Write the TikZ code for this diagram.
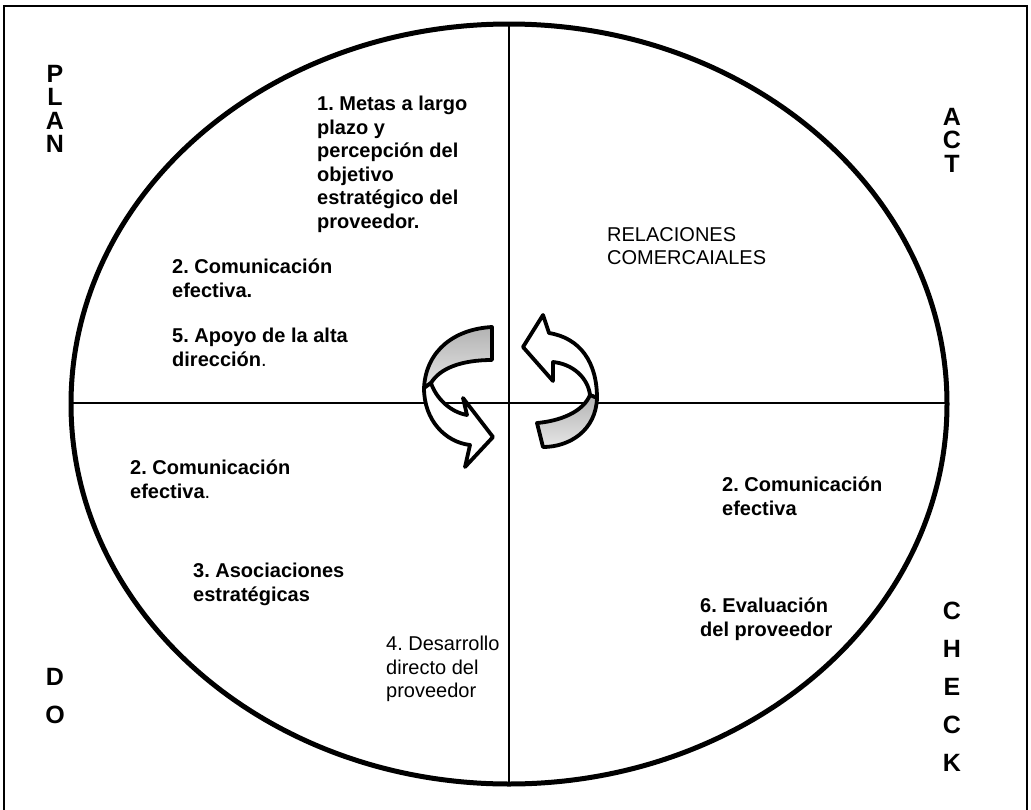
\documentclass[tikz,border=0pt]{standalone}
\usepackage{fontspec}
\setmainfont{Liberation Sans}
\frenchspacing
\begin{document}
\begin{tikzpicture}[x=1pt,y=-1pt,
  label/.style={anchor=north west,inner sep=0pt,align=left,
    font=\fontsize{20}{23.5}\selectfont\bfseries\frenchspacing},
  plainlabel/.style={label,font=\fontsize{20}{23.5}\selectfont\frenchspacing},
  stack/.style={anchor=north,inner sep=0pt,align=center,
    font=\fontsize{25}{23.5}\selectfont\bfseries},
  widestack/.style={stack,font=\fontsize{25}{38}\selectfont\bfseries},
  ribbon/.style={draw=black,line width=3.8pt,line join=round},
  backside/.style={ribbon,top color=gray!60,bottom color=gray!20}]
\useasboundingbox (0,0) rectangle (1031,809);

% outer frame
\draw[line width=1.6pt] (4,6) rectangle (1027,815);

% quadrant axes
\draw[line width=1.8pt] (71,403) -- (947,403);
\draw[line width=1.8pt] (509,24) -- (509,784);

% main ellipse
\draw[line width=5pt] (509,404) ellipse [x radius=438, y radius=380];

% left cycle arrow: shaded back side, then white front with head
\draw[backside] (492,327) .. controls (455,329) and (426,350) .. (424,388)
  -- (431,383) .. controls (440,368) and (462,360) .. (492,360) -- cycle;
\draw[ribbon,fill=white] (424,388) .. controls (424,420) and (445,442) .. (470,445)
  -- (465,467) -- (493,437) -- (463,398) -- (467,415)
  .. controls (450,412) and (436,398) .. (431,383) -- cycle;

% right cycle arrow: white front with head, then shaded back side
\draw[ribbon,fill=white] (597,398) .. controls (597,362) and (580,338) .. (549,333)
  -- (543,315) -- (523,347) -- (553,381) -- (553,362)
  .. controls (573,364) and (588,378) .. (590,395) -- cycle;
\draw[backside] (597,398) .. controls (596,430) and (570,447) .. (543,447)
  -- (537,423) .. controls (560,421) and (583,412) .. (590,395) -- cycle;

% PDCA letters
\node[stack] (plan) at (55,65) {P\\L\\A\\N};
\node[stack] (act) at (952,108) {A\\C\\T};
\node[widestack] (do) at (55,668) {D\\O};
\node[widestack] (check) at (952,602) {C\\H\\E\\C\\K};

% quadrant texts
\node[label] (metas) at (317,96) {1. Metas a largo\\plazo y\\percepción del\\objetivo\\estratégico del\\proveedor.};
\node[label] (comA) at (172,259) {2. Comunicación\\efectiva.};
\node[label] (apoyo) at (172,328) {5. Apoyo de la alta\\dirección{\mdseries .}};
\node[plainlabel] (rel) at (607,227) {RELACIONES\\COMERCAIALES};
\node[label] (comB) at (130,460) {2. Comunicación\\efectiva{\mdseries .}};
\node[label] (asoc) at (193,563) {3. Asociaciones\\estratégicas};
\node[plainlabel] (desa) at (386,636) {4. Desarrollo\\directo del\\proveedor};
\node[label] (comC) at (722,477) {2. Comunicación\\efectiva};
\node[label] (eval) at (700,598) {6. Evaluación\\del proveedor};
\end{tikzpicture}
\end{document}
